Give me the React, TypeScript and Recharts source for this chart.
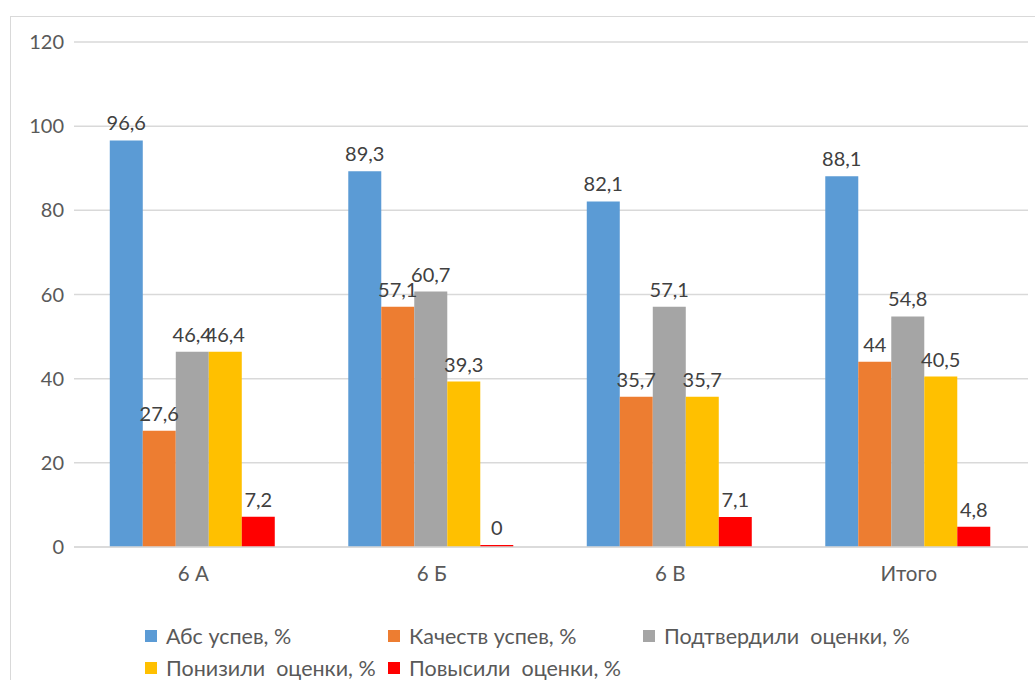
import React from 'react';
import { BarChart, Bar, XAxis, YAxis, CartesianGrid, LabelList } from 'recharts';

const categories = ['6 А', '6 Б', '6 В', 'Итого'];
const absUspev = [96.6, 89.3, 82.1, 88.1];
const kachestvo = [27.6, 57.1, 35.7, 44];
const podtverdili = [46.4, 60.7, 57.1, 54.8];
const ponizili = [46.4, 39.3, 35.7, 40.5];
const povysili = [7.2, 0, 7.1, 4.8];
const yTicks = [0, 20, 40, 60, 80, 100, 120];

const series = [
    { key: 'abs', name: 'Абс успев, %', values: absUspev, color: '#5B9BD5' },
    { key: 'kach', name: 'Качеств успев, %', values: kachestvo, color: '#ED7D31' },
    { key: 'podt', name: 'Подтвердили  оценки, %', values: podtverdili, color: '#A5A5A5' },
    { key: 'poni', name: 'Понизили  оценки, %', values: ponizili, color: '#FFC000' },
    { key: 'povy', name: 'Повысили  оценки, %', values: povysili, color: '#FF0000' },
];

const data = categories.map((c, i) => {
    const row: any = { name: c };
    series.forEach((s) => { row[s.key] = s.values[i]; });
    return row;
});

const fmt = (v: any) => String(v).replace('.', ',');

const FONT = 'Lato, "Open Sans", sans-serif';

const App: React.FC = () => {
    return (
        <div style={{ position: 'absolute', left: 0, top: 0, width: 1035, height: 680, overflow: 'hidden', background: '#fff', fontFamily: FONT }}>
            {/* рамка диаграммы */}
            <div style={{ position: 'absolute', left: 10, top: 16, width: 1060, height: 700, border: '1px solid #d9d9d9', boxSizing: 'border-box' }} />
            <div style={{ position: 'absolute', left: 0, top: 0 }}>
                <BarChart
                    width={1035}
                    height={680}
                    data={data}
                    margin={{ top: 42, right: 7, left: 0, bottom: 103 }}
                    barCategoryGap="15%"
                    barGap={0}
                >
                    <CartesianGrid stroke="#d9d9d9" strokeWidth={1.5} vertical={false} />
                    <XAxis
                        dataKey="name"
                        height={30}
                        axisLine={{ stroke: '#d9d9d9', strokeWidth: 1.5 }}
                        tickLine={false}
                        tick={{ fill: '#595959', fontSize: 20.5, fontFamily: FONT }}
                        dy={11}
                    />
                    <YAxis
                        width={74}
                        domain={[0, 120]}
                        ticks={yTicks}
                        axisLine={false}
                        tickLine={false}
                        tick={{ fill: '#595959', fontSize: 20, fontFamily: FONT }}
                        dx={-2}
                    />
                    {series.map((s) => (
                        <Bar key={s.key} dataKey={s.key} name={s.name} fill={s.color} isAnimationActive={false} minPointSize={s.key === 'povy' ? 2 : 0}>
                            <LabelList dataKey={s.key} position="top" offset={10} formatter={fmt} style={{ fill: '#404040', fontSize: 20, fontFamily: FONT }} />
                        </Bar>
                    ))}
                </BarChart>
            </div>
            {/* легенда */}
            <div style={{ position: 'absolute', left: 145, top: 624, width: 880, display: 'flex', flexWrap: 'wrap', rowGap: 8, color: '#595959', fontSize: 21.5, lineHeight: '24px' }}>
                {series.map((s) => (
                    <div key={s.key} style={{ width: s.key === 'kach' ? 255 : 243, flexShrink: 0, display: 'flex', alignItems: 'center', whiteSpace: 'pre' }}>
                        <span style={{ display: 'inline-block', flexShrink: 0, width: 12, height: 12, background: s.color, marginRight: 9 }} />
                        {s.name}
                    </div>
                ))}
            </div>
        </div>
    );
};

export default App;
